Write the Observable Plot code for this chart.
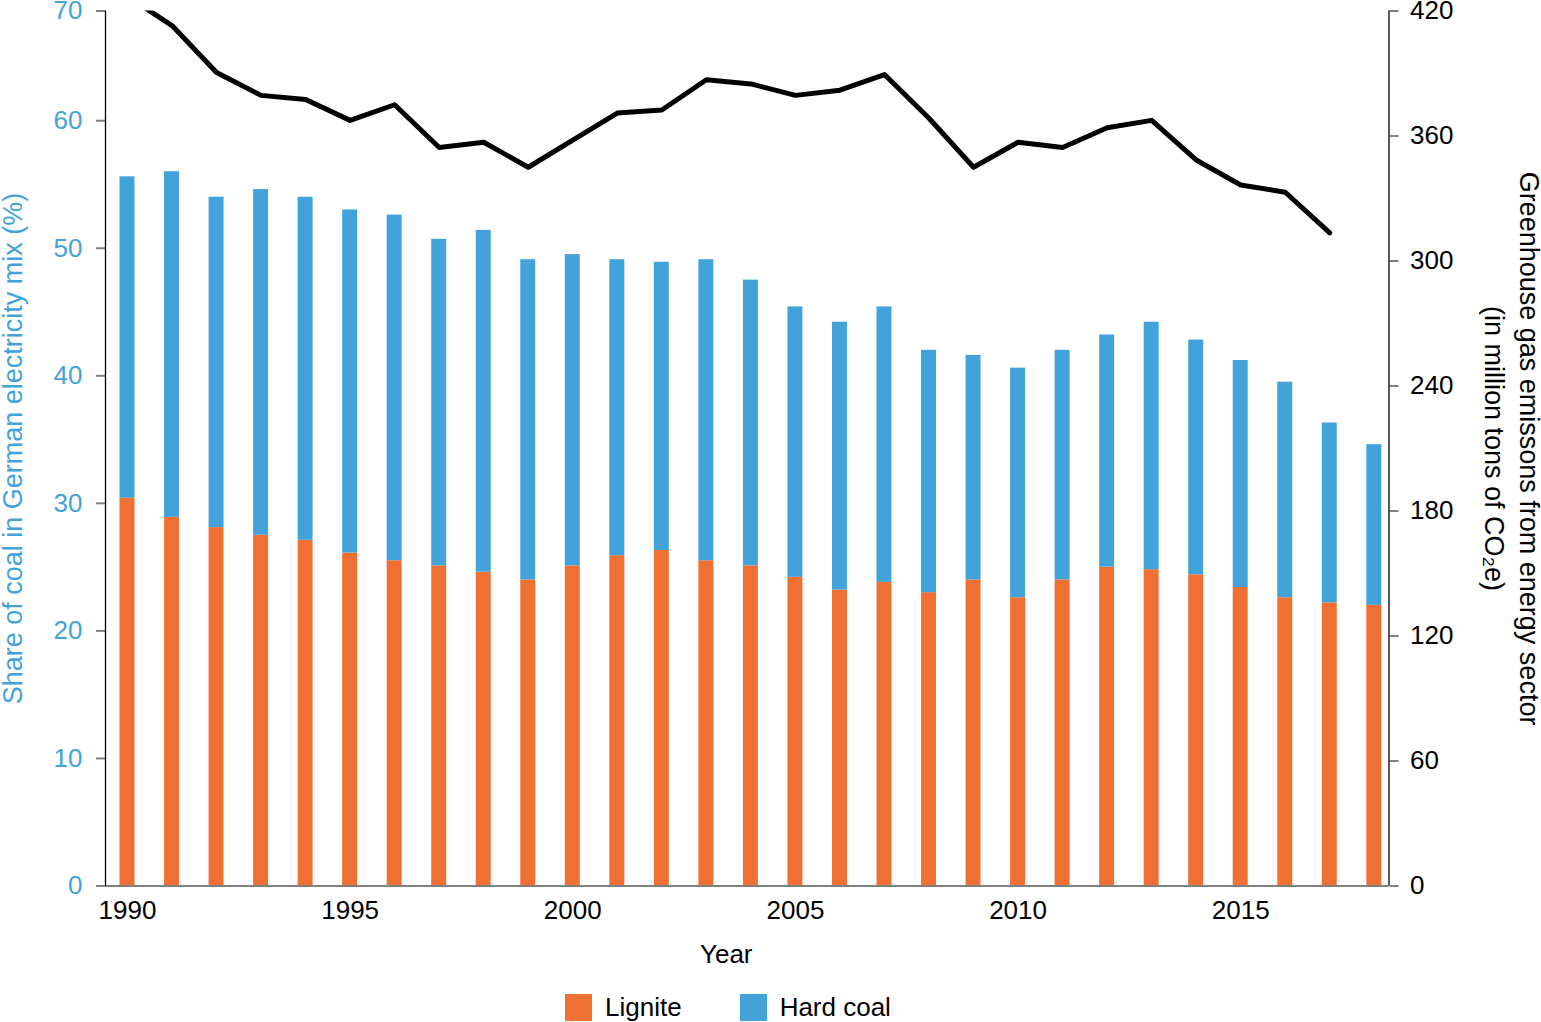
<!DOCTYPE html>
<html>
<head>
<meta charset="utf-8">
<script src="https://cdn.jsdelivr.net/npm/d3@7"></script>
<script src="https://cdn.jsdelivr.net/npm/@observablehq/plot@0.6"></script>
<style>
  html, body { margin: 0; padding: 0; background: #fff; }
  #chart svg { display: block; }
  .legend { display: flex; align-items: center; padding-left: 565px; margin-top: 17px;
            font-family: "Liberation Sans", Arial, Helvetica, sans-serif; font-size: 26px; color: #000; }
  .legend .sw { width: 27px; height: 27px; margin-right: 13px; }
  .legend .item { display: flex; align-items: center; }
  .legend .item + .item { margin-left: 58px; }
</style>
</head>
<body>
<div id="chart"></div>
<script>
const years = [1990, 1991, 1992, 1993, 1994, 1995, 1996, 1997, 1998, 1999,
               2000, 2001, 2002, 2003, 2004, 2005, 2006, 2007, 2008, 2009,
               2010, 2011, 2012, 2013, 2014, 2015, 2016, 2017, 2018];
// share of electricity mix (%)
const lignite = [30.4, 28.9, 28.1, 27.5, 27.1, 26.1, 25.5, 25.1, 24.6, 24.0,
                 25.1, 25.9, 26.3, 25.5, 25.1, 24.2, 23.2, 23.8, 23.0, 24.0,
                 22.6, 24.0, 25.0, 24.8, 24.4, 23.4, 22.6, 22.2, 22.0];
const hardCoal = [25.2, 27.1, 25.9, 27.1, 26.9, 26.9, 27.1, 25.6, 26.8, 25.1,
                  24.4, 23.2, 22.6, 23.6, 22.4, 21.2, 21.0, 21.6, 19.0, 17.6,
                  18.0, 18.0, 18.2, 19.4, 18.4, 17.8, 16.9, 14.1, 12.6];
// greenhouse gas emissions, energy sector (million t CO2e), 1990-2017
const emissionYears = [1990, 1991, 1992, 1993, 1994, 1995, 1996, 1997, 1998, 1999,
                       2000, 2001, 2002, 2003, 2004, 2005, 2006, 2007, 2008, 2009,
                       2010, 2011, 2012, 2013, 2014, 2015, 2016, 2017];
const emissions = [427, 413, 390.5, 379.5, 377.5, 367.5, 375, 354.5, 357, 345,
                   358, 371, 372.5, 387, 385, 379.5, 382, 389.5, 368.5, 345,
                   357, 354.5, 364, 367.5, 348.5, 336.5, 333, 313.5];

const sources = ["Lignite", "Hard coal"];
const colors = ["#F07033", "#42A3DA"];
const xTicks = [1990, 1995, 2000, 2005, 2010, 2015];
const leftTickValues = [0, 10, 20, 30, 40, 50, 60];
const rightTicks = [0, 60, 120, 180, 240, 300, 360, 420];

const leftLabel = "Share of coal in German electricity mix (%)";
const rightLabel1 = "Greenhouse gas emissons from energy sector";
const rightLabel2 = "(in million tons of CO\u2082e)";

// scale layout
const xDomain = [1989.506, 2018.33];
const leftMax = 68.6;
const rightMax = 420;
const toLeft = v => v * leftMax / rightMax;
const halfBar = 0.168;
const blue = colors[1];
const font = "'Liberation Sans', Arial, Helvetica, sans-serif";

const bars = years.flatMap((year, i) => [
  {year, source: sources[0], y1: 0, y2: lignite[i]},
  {year, source: sources[1], y1: lignite[i], y2: lignite[i] + hardCoal[i]}
]);
const line = emissionYears.map((year, i) => ({year, value: emissions[i]}));

const chart = Plot.plot({
  width: 1541,
  height: 975,
  marginLeft: 105,
  marginRight: 152.5,
  marginTop: 10.5,
  marginBottom: 89.5,
  style: {fontFamily: font, fontSize: "26px", background: "#fff", color: "#000", overflow: "visible"},
  x: {type: "linear", domain: xDomain, axis: null},
  y: {domain: [0, leftMax], axis: null},
  color: {domain: sources, range: colors},
  marks: [
    Plot.rect(bars, {x1: d => d.year - halfBar, x2: d => d.year + halfBar, y1: "y1", y2: "y2", fill: "source"}),
    Plot.ruleY([0], {stroke: "#808080", strokeWidth: 2}),
    Plot.axisY([...leftTickValues, leftMax], {
      anchor: "left", tickSize: 9, tickPadding: 14, stroke: "#808080", strokeWidth: 2,
      fill: blue, fontSize: 26, label: null,
      tickFormat: d => d === leftMax ? "70" : String(d)
    }),
    Plot.axisY(rightTicks.map(toLeft), {
      anchor: "right", tickSize: 9, tickPadding: 12, stroke: "#808080", strokeWidth: 2,
      fill: "#000", fontSize: 26, label: null,
      tickFormat: d => String(Math.round(d * rightMax / leftMax))
    }),
    Plot.axisX(xTicks, {anchor: "bottom", tickSize: 0, tickPadding: 15, fontSize: 26, label: null, tickFormat: d => String(d)}),
    Plot.ruleX([xDomain[0], xDomain[1]], {stroke: "#000", strokeWidth: 1.3}),
    Plot.line(line, {x: "year", y: d => toLeft(d.value), stroke: "#000", strokeWidth: 5, clip: true}),
    Plot.text([leftLabel], {frameAnchor: "left", textAnchor: "middle", rotate: -90, dx: -92, fill: blue, fontSize: 27}),
    Plot.text([rightLabel1], {frameAnchor: "right", textAnchor: "middle", rotate: 90, dx: 139.5, fill: "#000", fontSize: 27}),
    Plot.text([rightLabel2], {frameAnchor: "right", textAnchor: "middle", rotate: 90, dx: 104.5, fill: "#000", fontSize: 27}),
    Plot.text(["Year"], {frameAnchor: "bottom", dx: -21, dy: 77, fill: "#000", fontSize: 26})
  ]
});
document.getElementById("chart").appendChild(chart);

const legend = document.createElement("div");
legend.className = "legend";
sources.forEach((s, i) => {
  const item = document.createElement("div");
  item.className = "item";
  const sw = document.createElement("div");
  sw.className = "sw";
  sw.style.background = colors[i];
  const label = document.createElement("span");
  label.textContent = s;
  item.appendChild(sw);
  item.appendChild(label);
  legend.appendChild(item);
});
document.getElementById("chart").appendChild(legend);
</script>
</body>
</html>
